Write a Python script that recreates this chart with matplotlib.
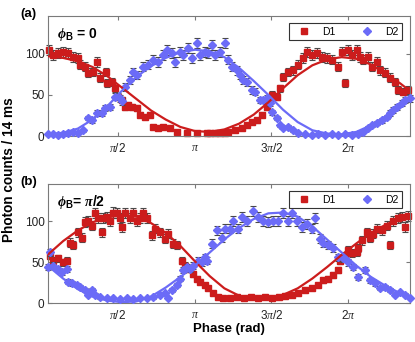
import numpy as np
import matplotlib
matplotlib.use("Agg")
import matplotlib.pyplot as plt
from matplotlib.lines import Line2D

plt.rcParams['font.family'] = ['Liberation Sans', 'DejaVu Sans']
plt.rcParams['mathtext.fontset'] = 'custom'
plt.rcParams['mathtext.rm'] = 'Liberation Sans'
plt.rcParams['mathtext.it'] = 'Liberation Serif:italic'
plt.rcParams['mathtext.bf'] = 'Liberation Sans:bold'
plt.rcParams['mathtext.bfit'] = 'Liberation Serif:italic:bold'

RED = "#cc1c1c"
BLUE = "#6b6bf7"
GREY = "#7a7a7a"

# ---- panel (a): phi_B = 0 ----
a_d1_phase = [0.16, 0.24, 0.34, 0.44, 0.55, 0.65, 0.75, 0.79, 0.90, 0.96, 1.06, 1.14, 1.20, 1.33,
              1.35, 1.45, 1.51, 1.57, 1.65, 1.72, 1.78, 1.86, 1.96, 2.02, 2.12, 2.23, 2.29, 2.39,
              2.49, 2.64, 2.78, 2.98, 3.19, 3.40, 3.46, 3.56, 3.66, 3.76, 3.83, 3.97, 4.11, 4.22,
              4.32, 4.42, 4.52, 4.62, 4.69, 4.73, 4.83, 4.89, 4.95, 5.06, 5.16, 5.26, 5.36, 5.44,
              5.55, 5.65, 5.75, 5.85, 5.96, 6.08, 6.16, 6.22, 6.28, 6.37, 6.47, 6.53, 6.59, 6.69,
              6.78, 6.88, 6.94, 7.04, 7.15, 7.25, 7.31, 7.41, 7.51]
a_d1_counts = [105, 99, 101, 102, 101, 96, 95, 87, 84, 77, 78, 90, 71, 78,
               65, 66, 58, 48, 44, 35, 38, 35, 34, 26, 23, 26, 11, 10,
               11, 10, 5, 4, 4, 4, 4, 4, 4, 4, 5, 7, 10, 13,
               17, 19, 26, 35, 44, 50, 48, 58, 72, 78, 80, 87, 95, 102,
               99, 101, 96, 95, 93, 84, 102, 65, 105, 99, 105, 96, 93, 96,
               84, 90, 80, 77, 71, 66, 56, 54, 56]

a_d2_phase = [0.14, 0.24, 0.34, 0.44, 0.55, 0.65, 0.75, 0.85, 0.96, 1.04, 1.14, 1.24, 1.31, 1.41,
              1.51, 1.61, 1.65, 1.72, 1.82, 1.88, 1.96, 2.08, 2.19, 2.29, 2.39, 2.49, 2.58, 2.68,
              2.74, 2.84, 2.90, 3.01, 3.09, 3.19, 3.25, 3.35, 3.42, 3.50, 3.56, 3.66, 3.76, 3.83,
              3.91, 4.01, 4.07, 4.13, 4.22, 4.32, 4.38, 4.48, 4.54, 4.62, 4.69, 4.73, 4.83, 4.89,
              4.95, 5.06, 5.16, 5.26, 5.40, 5.55, 5.67, 5.81, 5.96, 6.08, 6.22, 6.37, 6.49, 6.59,
              6.69, 6.78, 6.88, 6.98, 7.08, 7.15, 7.21, 7.29, 7.39, 7.45, 7.55]
a_d2_counts = [2, 2, 1, 2, 4, 5, 4, 7, 22, 19, 28, 28, 34, 35,
               48, 46, 42, 60, 68, 78, 74, 84, 87, 93, 90, 99, 105, 101,
               90, 102, 99, 107, 95, 113, 99, 102, 101, 111, 99, 102, 113, 93,
               84, 80, 74, 68, 66, 56, 54, 44, 44, 46, 40, 29, 22, 13,
               10, 11, 7, 4, 2, 1, 2, 1, 2, 1, 2, 1, 2, 5,
               10, 13, 16, 19, 23, 28, 32, 35, 40, 44, 46]

# ---- panel (b): phi_B = pi/2 ----
b_d1_phase = [0.18, 0.24, 0.34, 0.44, 0.53, 0.59, 0.65, 0.75, 0.83, 0.90, 0.96, 1.04, 1.10, 1.16,
              1.24, 1.26, 1.35, 1.41, 1.47, 1.55, 1.61, 1.65, 1.72, 1.82, 1.88, 1.96, 2.02, 2.08,
              2.17, 2.27, 2.33, 2.43, 2.53, 2.60, 2.70, 2.78, 2.88, 2.94, 3.01, 3.11, 3.19, 3.25,
              3.35, 3.42, 3.52, 3.62, 3.72, 3.87, 4.01, 4.15, 4.30, 4.44, 4.58, 4.73, 4.87, 4.99,
              5.14, 5.26, 5.40, 5.55, 5.67, 5.77, 5.88, 5.98, 6.08, 6.12, 6.22, 6.28, 6.37, 6.47,
              6.49, 6.57, 6.67, 6.74, 6.80, 6.88, 6.98, 7.08, 7.15, 7.21, 7.31, 7.39, 7.45, 7.51]
b_d1_counts = [58, 52, 55, 50, 52, 74, 71, 87, 80, 99, 101, 95, 110, 104,
               87, 104, 105, 101, 111, 110, 104, 93, 110, 104, 110, 101, 104, 110,
               104, 83, 91, 87, 79, 85, 73, 71, 52, 46, 42, 36, 30, 26,
               22, 18, 12, 7, 6, 6, 7, 6, 7, 6, 7, 6, 7, 8,
               10, 12, 16, 18, 22, 28, 30, 34, 40, 52, 58, 65, 61, 62,
               68, 77, 87, 80, 85, 91, 89, 95, 71, 101, 104, 105, 93, 107]

b_d2_phase = [0.14, 0.18, 0.24, 0.34, 0.42, 0.53, 0.55, 0.63, 0.73, 0.79, 0.90, 0.96, 1.04, 1.10,
              1.20, 1.35, 1.47, 1.61, 1.76, 1.88, 2.02, 2.17, 2.29, 2.43, 2.53, 2.60, 2.68, 2.78,
              2.84, 2.90, 2.99, 3.05, 3.11, 3.21, 3.29, 3.35, 3.40, 3.50, 3.60, 3.70, 3.76, 3.87,
              3.93, 4.03, 4.11, 4.22, 4.34, 4.44, 4.54, 4.64, 4.75, 4.85, 4.95, 5.06, 5.14, 5.24,
              5.34, 5.45, 5.55, 5.61, 5.71, 5.77, 5.88, 5.98, 6.08, 6.18, 6.28, 6.39, 6.49, 6.63,
              6.74, 6.84, 6.94, 7.04, 7.15, 7.25, 7.35, 7.45, 7.55]
b_d2_counts = [44, 62, 46, 42, 38, 42, 26, 24, 22, 20, 16, 10, 16, 10,
               7, 6, 6, 5, 6, 5, 6, 6, 7, 10, 12, 6, 16, 22,
               30, 40, 44, 42, 46, 52, 50, 56, 52, 73, 89, 80, 91, 91,
               101, 91, 105, 101, 113, 105, 101, 99, 101, 101, 110, 101, 111, 101,
               93, 97, 91, 104, 79, 74, 71, 67, 56, 55, 50, 44, 32, 40,
               28, 24, 18, 20, 16, 10, 13, 10, 6]

# fitted curves, sampled off the figure
fit_phase = [0.15, 0.45, 0.75, 1.05, 1.35, 1.65, 1.95, 2.25, 2.55, 2.85, 3.15, 3.45, 3.75,
             4.05, 4.35, 4.65, 4.95, 5.25, 5.55, 5.85, 6.15, 6.45, 6.75, 7.05, 7.35, 7.65]
a_d1_fit = [97, 95, 91, 84, 73, 59, 45, 31, 20, 11, 6, 5, 8,
            15, 26, 41, 58, 74, 86, 93, 96, 94, 87, 76, 64, 50]
a_d2_fit = [2, 4, 9, 20, 36, 55, 72, 85, 95, 102, 105, 103, 96,
            83, 67, 50, 32, 17, 7, 3, 2, 5, 13, 24, 37, 52]
b_d1_fit = [60, 76, 89, 99, 105, 108, 106, 98, 86, 70, 51, 33, 18,
            9, 5, 5, 10, 18, 30, 44, 59, 73, 86, 96, 104, 108]
b_d2_fit = [45, 30, 17, 8, 3, 1, 2, 8, 19, 32, 46, 62, 78,
            92, 103, 110, 111, 106, 94, 78, 62, 46, 32, 21, 12, 6]

phase_ticks = [np.pi / 2, np.pi, 3 * np.pi / 2, 2 * np.pi]
phase_labels = [r'$\pi$/2', r'$\pi$', r'3$\pi$/2', r'2$\pi$']
count_ticks = [0, 50, 100]

panels = [
    ("(a)", r'$\boldsymbol{\phi}_\mathbf{B}$ = 0',
     a_d1_phase, a_d1_counts, a_d2_phase, a_d2_counts, a_d1_fit, a_d2_fit),
    ("(b)", r'$\boldsymbol{\phi}_\mathbf{B}$= $\boldsymbol{\pi}$/2',
     b_d1_phase, b_d1_counts, b_d2_phase, b_d2_counts, b_d1_fit, b_d2_fit),
]

fig = plt.figure(figsize=(4.15, 3.42), dpi=100)
rects = [[0.1157, 0.6023, 0.8723, 0.3509], [0.1157, 0.1140, 0.8723, 0.3480]]

for rect, (tag, phi_txt, x1, y1, x2, y2, f1, f2) in zip(rects, panels):
    ax = fig.add_axes(rect)
    y1 = np.array(y1, float)
    y2 = np.array(y2, float)
    # shot-noise style error bars
    ax.errorbar(x1, y1, yerr=0.6 * np.sqrt(y1), fmt='s', color=RED, ms=4.8,
                ecolor='#4a4a4a', elinewidth=0.8, capsize=2.3, capthick=0.8, clip_on=False, zorder=2)
    ax.errorbar(x2, y2, yerr=0.6 * np.sqrt(y2), fmt='D', color=BLUE, ms=4.2,
                ecolor='#4a4a4a', elinewidth=0.8, capsize=2.3, capthick=0.8, clip_on=False, zorder=3)
    ax.plot(fit_phase, f1, color=RED, lw=1.6, zorder=4)
    ax.plot(fit_phase, f2, color=BLUE, lw=1.6, zorder=4)

    ax.set_xlim(0.14, 7.55)
    ax.set_ylim(0, 146)
    ax.set_xticks(phase_ticks)
    ax.set_xticklabels(phase_labels)
    ax.set_yticks(count_ticks)
    ax.tick_params(direction='in', top=True, right=True, length=3, width=0.8,
                   color=GREY, labelsize=8.5, labelcolor='#222222')
    ax.tick_params(axis='y', pad=2.5)
    ax.tick_params(axis='x', pad=4)
    for s in ax.spines.values():
        s.set_color(GREY)
        s.set_linewidth(0.8)

    ax.text(0.025, 0.85, phi_txt, transform=ax.transAxes, fontsize=10,
            fontweight='bold', va='center', ha='left')
    bb = ax.get_position()
    fig.text(0.048, bb.y1 - 0.011, tag, fontsize=9.5, fontweight='bold', va='bottom', ha='left')

    handles = [Line2D([], [], marker='s', color=RED, ls='none', ms=4.8),
               Line2D([], [], marker='D', color=BLUE, ls='none', ms=4.2)]
    leg = ax.legend(handles, ['D1', 'D2'], ncol=2, loc='upper right',
                    bbox_to_anchor=(0.978, 0.942), borderaxespad=0, fontsize=7.5,
                    fancybox=False, framealpha=1, edgecolor='#333333',
                    handlelength=2.2, handletextpad=0.6, columnspacing=2.0, borderpad=0.35)
    leg.get_frame().set_linewidth(0.8)

fig.text(0.5525, 0.02, 'Phase (rad)', fontsize=9.5, fontweight='bold', ha='center', va='bottom')
fig.text(0.005, 0.505, 'Photon counts / 14 ms', fontsize=9.8, fontweight='bold',
         rotation=90, ha='left', va='center')

fig.savefig('out.png', dpi=100)
